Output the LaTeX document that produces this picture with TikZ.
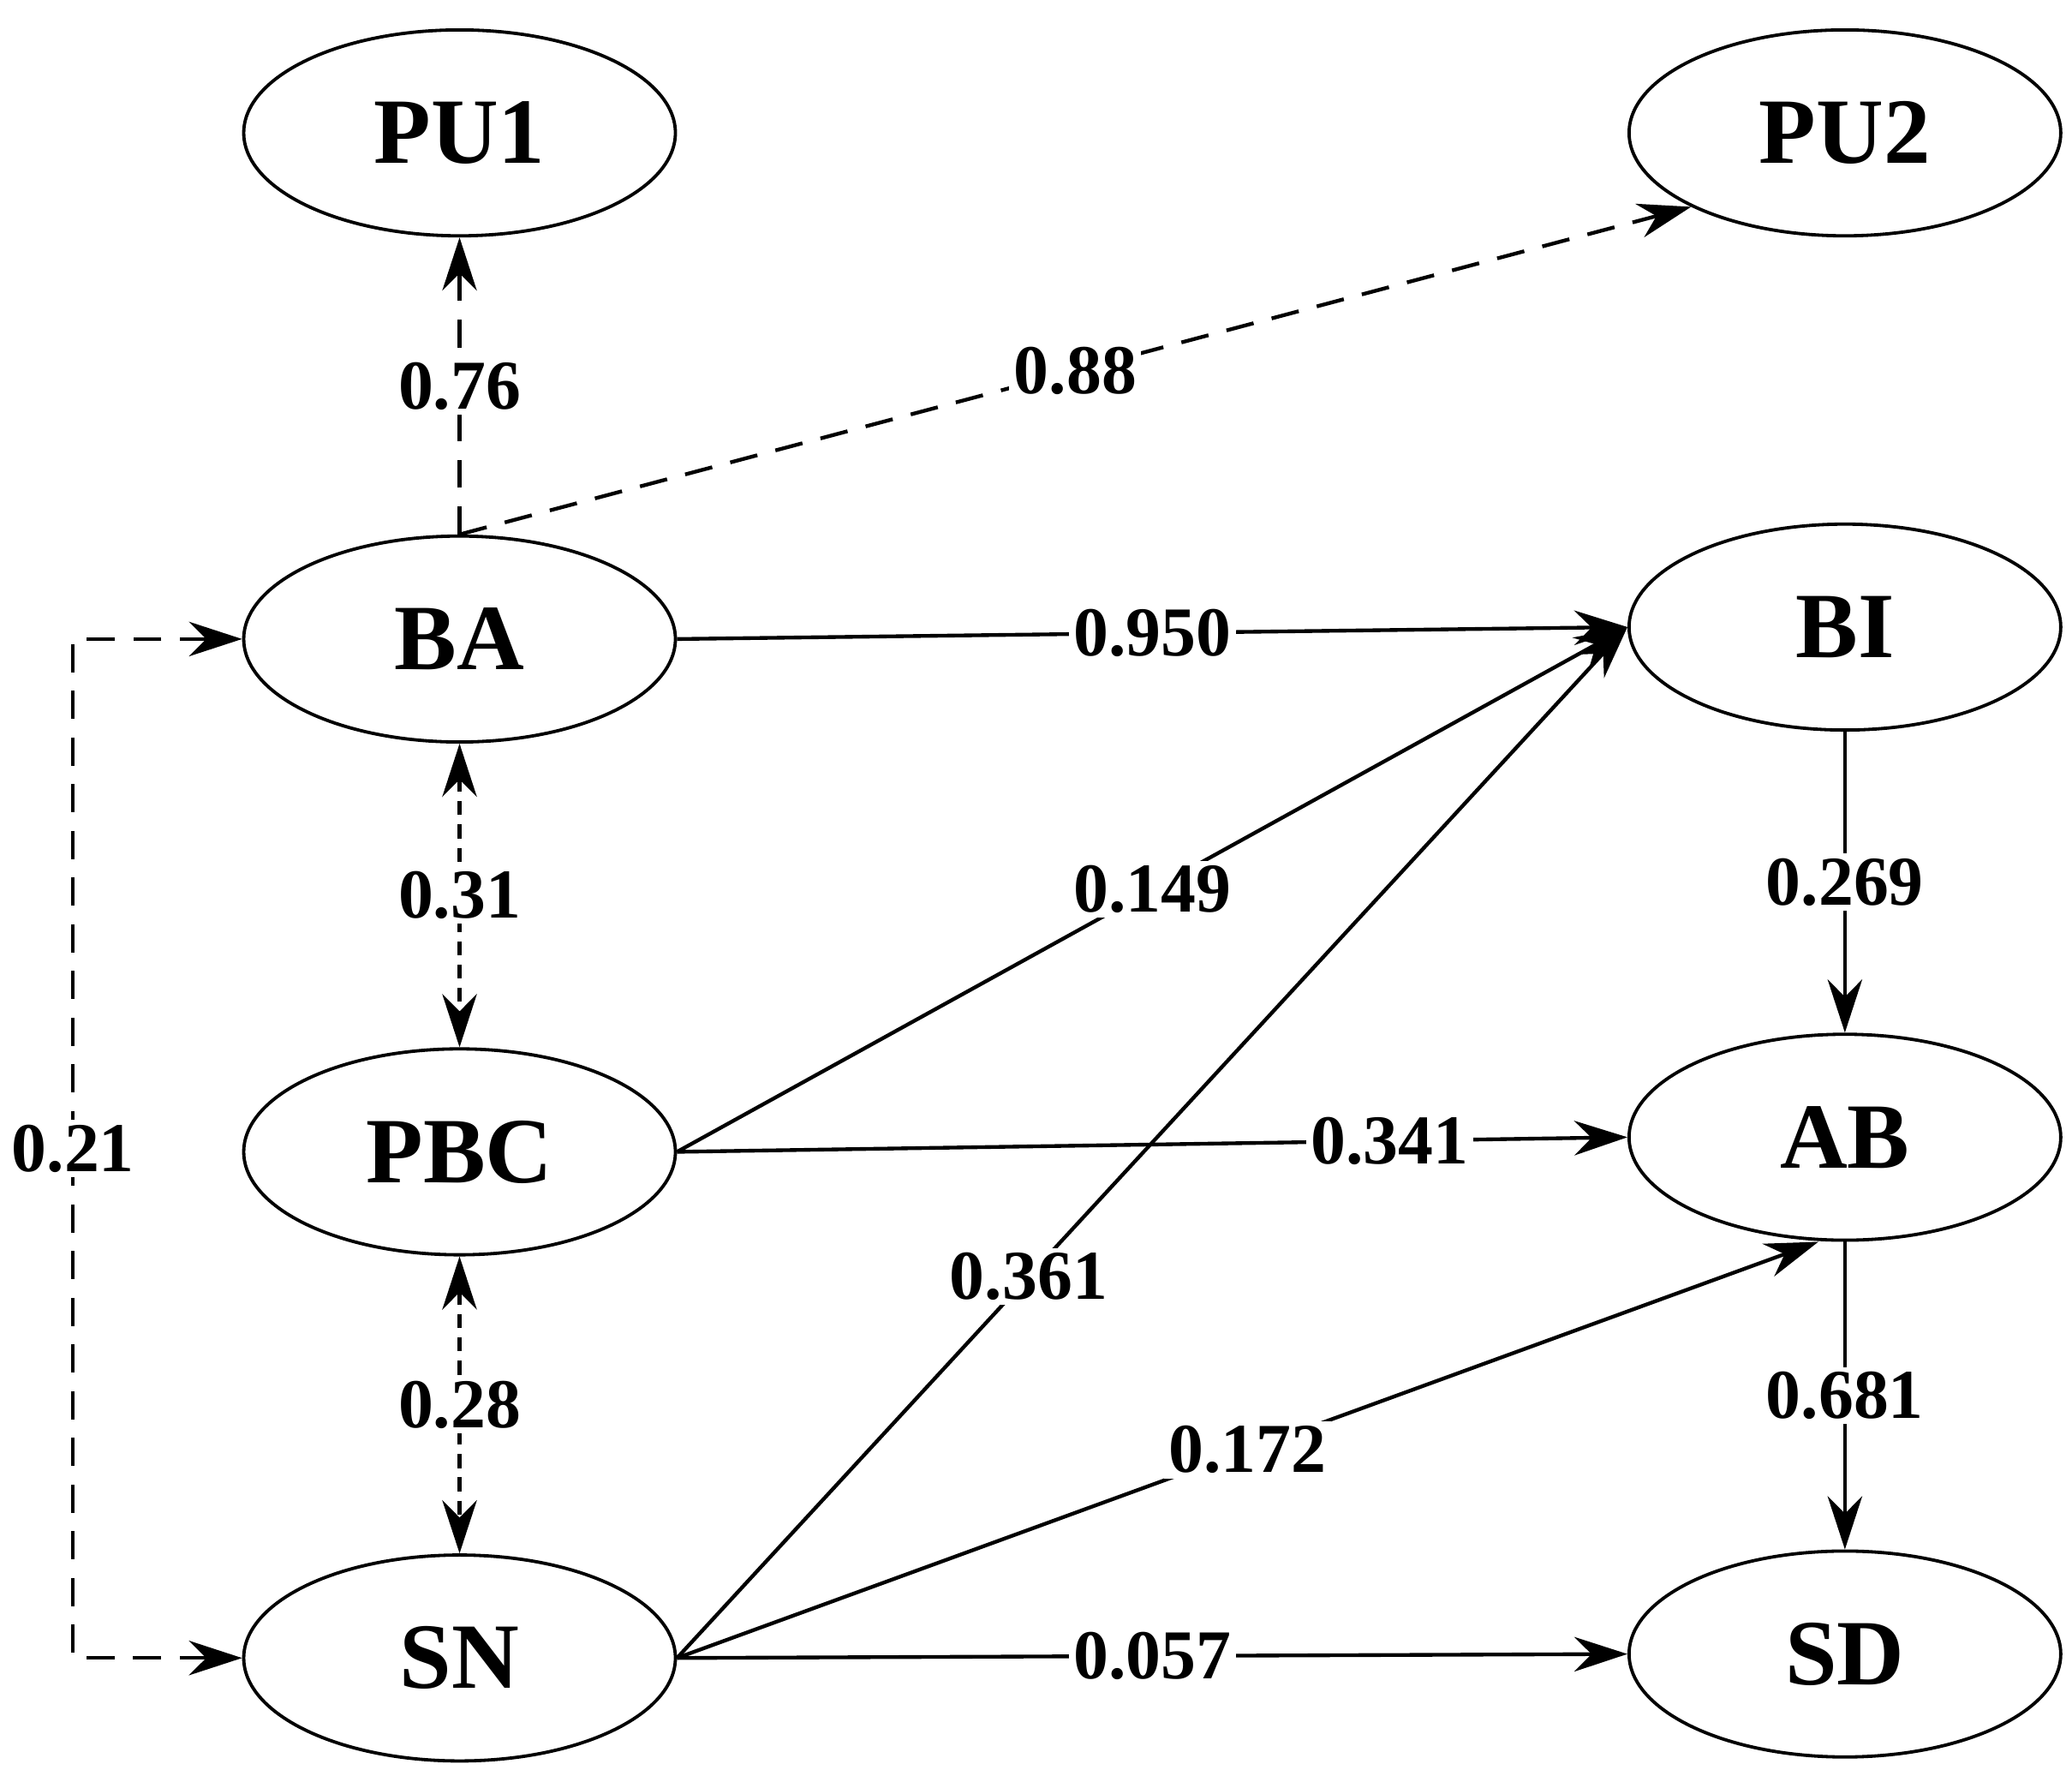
\documentclass[tikz,border=0pt]{standalone}
\usepackage{fontspec}
\setmainfont{Liberation Serif}
\usetikzlibrary{shapes.geometric,arrows.meta}
\begin{document}
\begin{tikzpicture}[
  var/.style={draw,ellipse,line width=0.7pt,minimum width=3.25cm,minimum height=1.55cm,font=\fontsize{20}{22}\selectfont\bfseries},
  lab/.style={fill=white,inner sep=1pt,font=\fontsize{15}{17}\selectfont\bfseries},
  path/.style={-{Stealth[length=4mm,width=2.6mm]},line width=0.8pt},
  cov/.style={path,dash pattern=on 6pt off 4pt},
  dbl/.style={cov,{Stealth[length=4mm,width=2.6mm]}-{Stealth[length=4mm,width=2.6mm]}}
]
\useasboundingbox (0,0) rectangle (15.6,-13.41);
% latent variables
\node[var] (PU1) at (3.46,-1.00) {PU1};
\node[var] (PU2) at (13.89,-1.00) {PU2};
\node[var] (BA) at (3.46,-4.81) {BA};
\node[var] (BI) at (13.89,-4.72) {BI};
\node[var] (PBC) at (3.46,-8.67) {PBC};
\node[var] (AB) at (13.89,-8.56) {AB};
\node[var] (SN) at (3.46,-12.48) {SN};
\node[var] (SD) at (13.89,-12.45) {SD};
\coordinate (L1) at (0.55,-4.81);
\coordinate (L2) at (0.55,-12.48);
% dashed paths
\draw[cov] (BA.north) -- node[lab]{0.76} (PU1.south);
\draw[cov] (BA.north) -- node[lab]{0.88} (PU2.south west);
\draw[dbl,dash pattern=on 3pt off 2pt] (BA.south) -- node[lab]{0.31} (PBC.north);
\draw[dbl,dash pattern=on 3pt off 2pt] (PBC.south) -- node[lab]{0.28} (SN.north);
\draw[dbl] (BA.west) -- (L1) -- node[lab]{0.21} (L2) -- (SN.west);
% structural paths
\draw[path] (BA.east) -- node[lab]{0.950} (BI.west);
\draw[path] (PBC.east) -- node[lab]{0.149} (BI.west);
\draw[path] (PBC.east) -- node[lab,pos=0.75]{0.341} (AB.west);
\draw[path] (SN.east) -- node[lab,pos=0.37]{0.361} (BI.west);
\draw[path] (SN.east) -- node[lab]{0.172} ([xshift=-2mm]AB.south);
\draw[path] (SN.east) -- node[lab]{0.057} (SD.west);
\draw[path] (BI.south) -- node[lab]{0.269} (AB.north);
\draw[path] (AB.south) -- node[lab]{0.681} (SD.north);
\end{tikzpicture}
\end{document}
